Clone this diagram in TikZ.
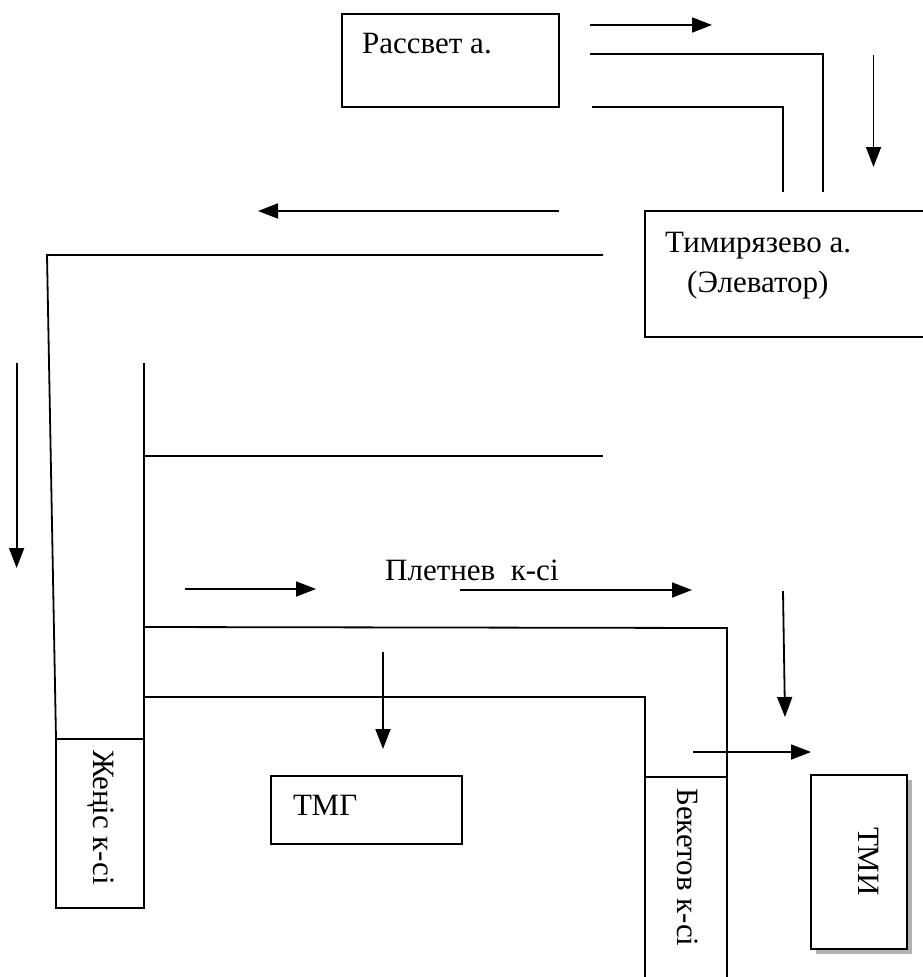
\documentclass[tikz,border=0pt]{standalone}
\usepackage{fontspec}
\IfFontExistsTF{LiberationSerif-Regular.ttf}
  {\newfontfamily\tnr{LiberationSerif-Regular.ttf}\def\lblsz{31}}
  {\newfontfamily\tnr{DejaVu Serif Condensed}\def\lblsz{28}}
\usetikzlibrary{arrows.meta,shadows}
\begin{document}
\begin{tikzpicture}[x=1pt,y=-1pt,
  ln/.style={line width=1.8pt},
  arr/.style={line width=1.8pt,-{Triangle[length=20pt,width=15pt]}},
  box/.style={draw,line width=1.8pt,inner sep=0pt,outer sep=0pt,fill=white},
  lbl/.style={inner sep=0pt,anchor=base west,font=\tnr\fontsize{\lblsz}{36}\selectfont},
  vlbl/.style={lbl,rotate=-90}]
\useasboundingbox[fill=white] (0,0) rectangle (923,977);

% boxes
\node[box,minimum width=217pt,minimum height=93pt] (rass) at (450.5,60.5) {};
\node[lbl] (rasst) at (362,53) {Рассвет а.};

\coordinate (timTL) at (645,211);
\coordinate (timBL) at (645,337);
\coordinate (timTR) at (923,211);
\coordinate (timBR) at (923,337);
\draw[ln] (timTR) -- (timTL) -- (timBL) -- (timBR);
\node[lbl] (timt1) at (665,252) {Тимирязево а.};
\node[lbl] (timt2) at (687,292) {(Элеватор)};

\node[box,minimum width=191pt,minimum height=68pt] (tmg) at (366.5,810) {};
\node[lbl] (tmgt) at (293,815) {ТМГ};

\node[box,minimum width=88pt,minimum height=169pt] (zh) at (100,823.5) {};
\node[vlbl] (zht) at (93,750) {Жеңіс к-сі};

\node[box,minimum width=96pt,minimum height=174pt,
  drop shadow={shadow xshift=5pt,shadow yshift=-5pt,fill=gray!60,opacity=1}] (tmi) at (859,862) {};
\node[vlbl] (tmit) at (858,827) {ТМИ};

\coordinate (bekTL) at (645,777);
\coordinate (bekTR) at (727,777);
\coordinate (bekBL) at (645,977);
\coordinate (bekBR) at (727,977);
\draw[ln] (bekBL) -- (bekTL) -- (bekTR) -- (bekBR);
\node[vlbl] (bekt) at (677,788) {Бекетов к-сі};

\node[lbl] (plet) at (385,580) {Плетнев\ \ к-сі};

% free ends
\coordinate (a1s) at (590,25);   \coordinate (a1e) at (712,25);
\coordinate (l1s) at (590,54);   \coordinate (l1c) at (823,54);  \coordinate (l1e) at (823,192);
\coordinate (l2s) at (592,107);  \coordinate (l2c) at (783,107); \coordinate (l2e) at (783,192);
\coordinate (a2s) at (873.5,55); \coordinate (a2e) at (873.5,167);
\coordinate (a3s) at (559,211);  \coordinate (a3e) at (258,211);
\coordinate (l3s) at (603,255);  \coordinate (l3c) at (47,255);
\coordinate (a4s) at (16.6,363); \coordinate (a4e) at (16.6,568);
\coordinate (l4s) at (144,363);
\coordinate (l5s) at (144,456);  \coordinate (l5e) at (603,456);
\coordinate (a5s) at (185,589);  \coordinate (a5e) at (316,589);
\coordinate (a6s) at (460,590);  \coordinate (a6e) at (692,590);
\coordinate (l6s) at (144,627);  \coordinate (l6c) at (727,628);
\coordinate (l7s) at (144,697);  \coordinate (l7c) at (645,697);
\coordinate (a7s) at (383,652);  \coordinate (a7e) at (383,749);
\coordinate (a8s) at (783,591);  \coordinate (a8e) at (785,717);
\coordinate (a9s) at (693,752);  \coordinate (a9e) at (811,752);

\draw[arr] (a1s) -- (a1e);
\draw[ln] (l1s) -- (l1c) -- (l1e);
\draw[ln] (l2s) -- (l2c) -- (l2e);
\draw[arr] (a2s) -- (a2e);
\draw[arr] (a3s) -- (a3e);
\draw[ln] (l3s) -- (l3c) -- (zh.north west);
\draw[arr] (a4s) -- (a4e);
\draw[ln] (l4s) -- (zh.north east);
\draw[ln] (l5s) -- (l5e);
\draw[arr] (a5s) -- (a5e);
\draw[arr] (a6s) -- (a6e);
\draw[ln] (l6s) -- (l6c) -- (bekTR);
\draw[ln] (l7s) -- (l7c) -- (bekTL);
\draw[arr] (a7s) -- (a7e);
\draw[arr] (a8s) -- (a8e);
\draw[arr] (a9s) -- (a9e);
\end{tikzpicture}
\end{document}
